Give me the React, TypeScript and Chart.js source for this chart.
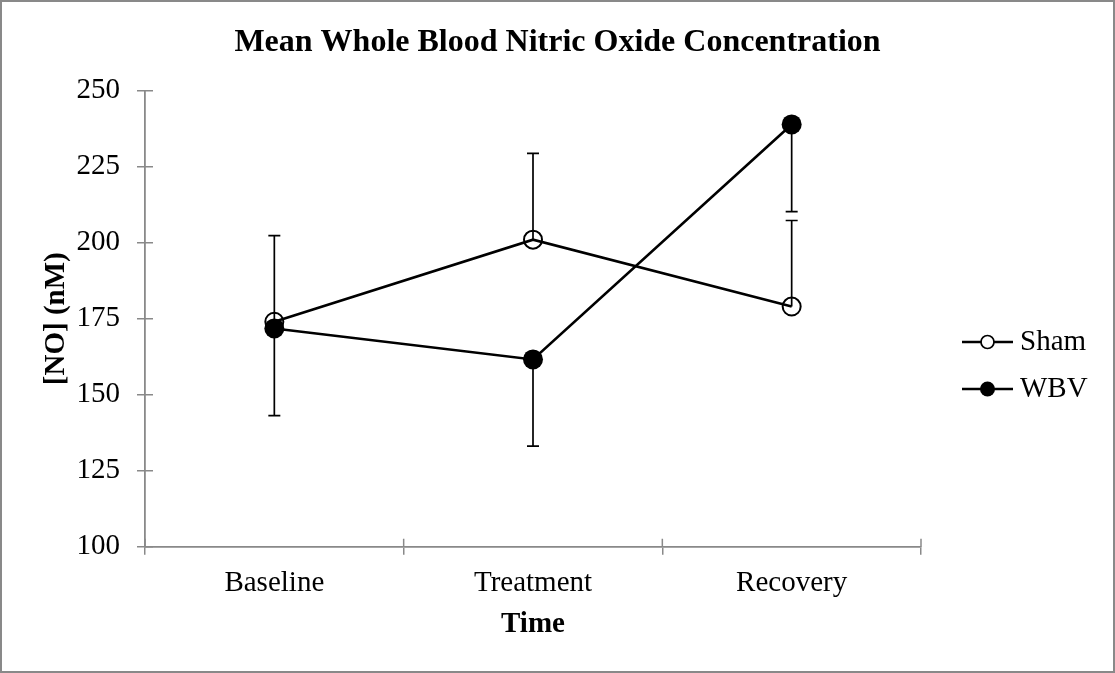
import React, { useEffect, useRef } from "react";
import { Chart, registerables, layouts } from "chart.js";

Chart.register(...registerables);

const categories = ["Baseline", "Treatment", "Recovery"];
const shamValues = [174, 201, 179];
const wbvValues = [171.8, 161.6, 238.9];
const shamErrUp = [28.3, 28.4, 28.3];
const wbvErrDown = [28.7, 28.5, 28.7];
const yTicks = [100, 125, 150, 175, 200, 225, 250];
const legendLabels = ["Sham", "WBV"];

const FONT = "'Liberation Serif', 'Times New Roman', serif";
const AXIS_GRAY = "#898989";

const errorBarPlugin = {
  id: "errorBars",
  beforeDatasetsDraw(chart: any) {
    const ctx = chart.ctx;
    const x = chart.scales.x;
    const y = chart.scales.y;
    ctx.save();
    ctx.strokeStyle = "#000";
    ctx.lineWidth = 1.7;
    const draw = (vals: number[], errs: number[], dir: number) => {
      vals.forEach((v, i) => {
        const px = x.getPixelForValue(i);
        const py0 = y.getPixelForValue(v);
        const py1 = y.getPixelForValue(v + dir * errs[i]);
        ctx.beginPath();
        ctx.moveTo(px, py0);
        ctx.lineTo(px, py1);
        ctx.moveTo(px - 6, py1);
        ctx.lineTo(px + 6, py1);
        ctx.stroke();
      });
    };
    draw(shamValues, shamErrUp, 1);
    draw(wbvValues, wbvErrDown, -1);
    ctx.restore();
  },
};

// Right-hand box that reserves room for the legend and draws it
const legendBoxPlugin = {
  id: "legendBox",
  start(chart: any) {
    const box: any = {
      position: "right",
      weight: 0,
      fullSize: false,
      options: {},
      left: 0,
      top: 0,
      right: 0,
      bottom: 0,
      width: 0,
      height: 0,
      isHorizontal() {
        return false;
      },
      update(_maxWidth: number, maxHeight: number) {
        this.width = 194;
        this.height = maxHeight;
      },
      getPadding() {
        return { left: 0, right: 0, top: 0, bottom: 0 };
      },
      draw() {
        const ctx = chart.ctx;
        const ys = [342, 389];
        const startX = this.left + 41;
        ctx.save();
        legendLabels.forEach((label, i) => {
          const ly = ys[i];
          ctx.strokeStyle = "#000";
          ctx.lineWidth = 2.4;
          ctx.beginPath();
          ctx.moveTo(startX, ly);
          ctx.lineTo(startX + 51, ly);
          ctx.stroke();
          ctx.beginPath();
          if (i === 1) {
            ctx.arc(startX + 25.5, ly, 7.5, 0, Math.PI * 2);
            ctx.fillStyle = "#000";
            ctx.fill();
          } else {
            ctx.arc(startX + 25.5, ly, 6.5, 0, Math.PI * 2);
            ctx.fillStyle = "#fff";
            ctx.fill();
            ctx.lineWidth = 1.7;
            ctx.stroke();
          }
          ctx.fillStyle = "#000";
          ctx.font = `29px ${FONT}`;
          ctx.textAlign = "left";
          ctx.textBaseline = "middle";
          ctx.fillText(label, startX + 58, ly);
        });
        ctx.restore();
      },
    };
    layouts.addBox(chart, box);
  },
};

const decorPlugin = {
  id: "decor",
  beforeDraw(chart: any) {
    const ctx = chart.ctx;
    ctx.save();
    ctx.fillStyle = "#fff";
    ctx.fillRect(0, 0, chart.width, chart.height);
    ctx.restore();
  },
  afterDraw(chart: any) {
    const ctx = chart.ctx;
    const area = chart.chartArea;
    const x = chart.scales.x;
    const y = chart.scales.y;
    ctx.save();
    ctx.strokeStyle = AXIS_GRAY;
    ctx.lineWidth = 1.5;
    ctx.beginPath();
    yTicks.forEach((t) => {
      const py = y.getPixelForValue(t);
      ctx.moveTo(area.left, py);
      ctx.lineTo(area.left + 8, py);
    });
    const p = categories.map((_, i) => x.getPixelForValue(i));
    const bounds = [area.left, (p[0] + p[1]) / 2, (p[1] + p[2]) / 2, area.right];
    bounds.forEach((bx) => {
      ctx.moveTo(bx, area.bottom);
      ctx.lineTo(bx, area.bottom - 8);
    });
    ctx.stroke();

    ctx.strokeStyle = AXIS_GRAY;
    ctx.lineWidth = 2;
    ctx.strokeRect(1, 1, chart.width - 2, chart.height - 2);
    ctx.restore();
  },
};

export default function App() {
  const ref = useRef<HTMLCanvasElement>(null);
  useEffect(() => {
    document.body.style.margin = "0";
    const chart = new Chart(ref.current!, {
      type: "line",
      data: {
        labels: categories,
        datasets: [
          {
            label: legendLabels[0],
            data: shamValues,
            borderColor: "#000",
            borderWidth: 2.6,
            pointRadius: 9,
            pointBorderWidth: 2,
            pointBackgroundColor: "rgba(0,0,0,0)",
            pointBorderColor: "#000",
            tension: 0,
            order: 1,
          },
          {
            label: legendLabels[1],
            data: wbvValues,
            borderColor: "#000",
            borderWidth: 2.6,
            pointRadius: 10,
            pointBorderWidth: 0,
            pointBackgroundColor: "#000",
            pointBorderColor: "#000",
            tension: 0,
            order: 0,
          },
        ],
      },
      options: {
        animation: false,
        responsive: false,
        maintainAspectRatio: false,
        events: [],
        layout: { padding: { left: 0, right: 0, top: 0, bottom: 0 } },
        plugins: {
          legend: { display: false },
          tooltip: { enabled: false },
          title: {
            display: true,
            text: "Mean Whole Blood Nitric Oxide Concentration",
            color: "#000",
            font: { family: FONT, size: 32, weight: "bold", lineHeight: 1.2 },
            padding: { top: 24, bottom: 28.3 },
          },
        },
        scales: {
          x: {
            type: "category",
            offset: true,
            afterFit: (s: any) => {
              s.height = 126.3;
            },
            grid: {
              offset: true,
              drawOnChartArea: false,
              drawTicks: true,
              tickLength: 8,
              color: AXIS_GRAY,
              lineWidth: 1.5,
            },
            border: { color: AXIS_GRAY, width: 1.8 },
            ticks: {
              color: "#000",
              font: { family: FONT, size: 29, lineHeight: 1.2 },
              padding: 11,
              maxRotation: 0,
            },
            title: {
              display: true,
              text: "Time",
              color: "#000",
              font: { family: FONT, size: 29, weight: "bold", lineHeight: 1.2 },
              padding: { top: 0, bottom: 30.6 },
            },
          },
          y: {
            type: "linear",
            min: 100,
            max: 250,
            afterFit: (s: any) => {
              s.width = 145;
            },
            afterBuildTicks: (s: any) => {
              s.ticks = yTicks.map((v) => ({ value: v }));
            },
            grid: {
              drawOnChartArea: false,
              drawTicks: true,
              tickLength: 8,
              color: AXIS_GRAY,
              lineWidth: 1.5,
            },
            border: { color: AXIS_GRAY, width: 1.8 },
            ticks: {
              color: "#000",
              font: { family: FONT, size: 29, lineHeight: 1.2 },
              padding: 17,
            },
            title: {
              display: true,
              text: "[NO] (nM)",
              color: "#000",
              font: { family: FONT, size: 29, weight: "bold", lineHeight: 1.2 },
              padding: { top: 39, bottom: 0 },
            },
          },
        },
      },
      plugins: [decorPlugin, errorBarPlugin, legendBoxPlugin],
    });
    return () => chart.destroy();
  }, []);
  return (
    <div style={{ position: "fixed", left: 0, top: 0, width: 1115, height: 673 }}>
      <canvas ref={ref} width={1115} height={673} style={{ width: 1115, height: 673, display: "block" }} />
    </div>
  );
}
